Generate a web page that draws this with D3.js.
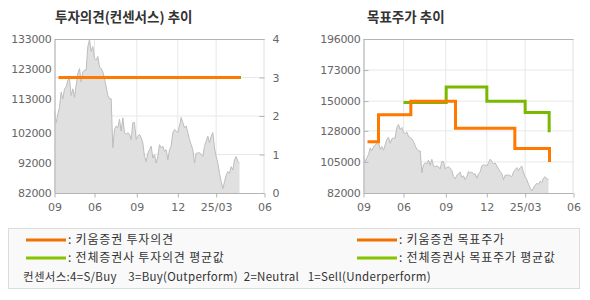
<!DOCTYPE html>
<html>
<head>
<meta charset="utf-8">
<script src="https://cdn.jsdelivr.net/npm/d3@7"></script>
<style>
  body { margin: 0; background: #fff; }
  text { font-family: "Noto Sans CJK KR", "Noto Sans", sans-serif; }
</style>
</head>
<body>
<div id="chart"></div>
<script>
// closing price samples (roughly every trading day or two)
const prices = [
  109200, 105300, 108100, 110400, 115400, 113200, 116500, 117100, 119300, 119900,
  114300, 116500, 113700, 117600, 121600, 123200, 118800, 122100, 122700, 122700,
  130500, 132800, 128900, 130500, 126600, 126000, 127200, 123800, 123200, 122100,
  119900, 117100, 114300, 113200, 113200, 97000, 103000, 104200, 103600, 106400,
  102500, 106900, 102000, 101400, 102000, 101400, 99700, 105300, 105300, 99700,
  100800, 101400, 100300, 98600, 94100, 92400, 95200, 96300, 97500, 93600,
  94700, 91900, 94100, 98000, 96900, 97500, 95800, 96300, 93000, 96300,
  97500, 102000, 103000, 102500, 102000, 104200, 107000, 105300, 103600, 104200,
  102000, 99700, 98000, 96300, 91900, 95200, 95200, 95400, 94700, 94100,
  97500, 99200, 100800, 98600, 100800, 102000, 96900, 94100, 91900, 88500,
  85700, 83500, 85700, 87900, 89100, 88500, 90700, 89600, 93000, 94100,
  92400, 91900
];
const xMax = 126;
const xTicks = [0, 24, 49.4, 74, 97, 126];
const xTickLabels = ['09', '06', '09', '12', '25/03', '06'];

// investment opinion (left chart)
const opinionX = [2.4, 111.4];
const opinionVal = [3, 3];
const consensusOpX = [24, 111.9];
const consensusOpVal = [3, 3];

// target price (right chart)
const targetX = [2.4, 9, 28.4, 55.2, 90.8, 111.6];
const targetVal = [120000, 140000, 150000, 130000, 115000, 105000];
const avgTargetX = [24, 49.6, 74, 97, 111.4];
const avgTargetVal = [149000, 160500, 150000, 141500, 127000];

const leftPriceTicks = [82000, 92000, 102000, 113000, 123000, 133000];
const rightPriceTicks = [82000, 105000, 128000, 150000, 173000, 196000];
const opinionTicks = [0, 1, 2, 3, 4];

const ORANGE = '#ff7800';
const GREEN = '#79b900';

const svg = d3.select('#chart').append('svg')
  .attr('width', 590)
  .attr('height', 300);

const plotTop = 39, plotBottom = 193;

function drawPanel(opts) {
  const g = svg.append('g');
  const x = d3.scaleLinear().domain([0, xMax]).range([opts.x0, opts.x1]);
  const y = d3.scaleLinear().domain(opts.priceDomain).range([plotBottom, plotTop]);

  g.append('text')
    .attr('x', opts.titleX)
    .attr('y', 22)
    .attr('font-size', 13.5)
    .attr('font-weight', 'bold')
    .attr('fill', '#333')
    .text(opts.title);

  // vertical grid
  g.selectAll('.vgrid')
    .data(xTicks.slice(1, -1))
    .enter().append('line')
    .attr('x1', d => x(d)).attr('x2', d => x(d))
    .attr('y1', plotTop).attr('y2', plotBottom)
    .attr('stroke', '#e8e8e8');

  // horizontal grid
  g.selectAll('.hgrid')
    .data(opts.gridVals)
    .enter().append('line')
    .attr('x1', opts.x0).attr('x2', opts.x1)
    .attr('y1', d => opts.gridScale(d)).attr('y2', d => opts.gridScale(d))
    .attr('stroke', '#e8e8e8');

  // price area
  const area = d3.area()
    .x((d, i) => x(i))
    .y0(plotBottom)
    .y1(d => y(d));
  g.append('path')
    .datum(prices)
    .attr('d', area)
    .attr('fill', '#e0e0e0');
  g.append('path')
    .datum(prices)
    .attr('d', d3.line().x((d, i) => x(i)).y(d => y(d)))
    .attr('fill', 'none')
    .attr('stroke', '#bdbdbd')
    .attr('stroke-width', 1);

  // frame
  g.append('rect')
    .attr('x', opts.x0 + 0.5).attr('y', plotTop + 0.5)
    .attr('width', opts.x1 - opts.x0 - 1).attr('height', plotBottom - plotTop)
    .attr('fill', 'none')
    .attr('stroke', '#e0e0e0');
  g.append('path')
    .attr('d', `M${opts.x0 + 0.5},${plotTop + 0.5}H${opts.x1}M${opts.x0 + 0.5},${plotTop}V${plotBottom + 0.5}H${opts.x1}`)
    .attr('fill', 'none')
    .attr('stroke', '#b4b4b4');

  // x axis
  const xAxis = d3.axisBottom(x)
    .tickValues(xTicks)
    .tickFormat((d, i) => xTickLabels[i])
    .tickSize(4)
    .tickSizeOuter(0);
  const ax = g.append('g')
    .attr('transform', `translate(0,${plotBottom + 0.5})`)
    .call(xAxis);
  ax.select('.domain').remove();
  ax.selectAll('line').attr('stroke', '#b4b4b4');
  ax.selectAll('text')
    .attr('fill', '#666')
    .attr('dy', '0.95em')
    .style('font-family', '"DejaVu Sans", sans-serif')
    .style('font-size', '11px');

  // left axis labels
  const ay = g.append('g')
    .attr('transform', `translate(${opts.x0},0)`)
    .call(d3.axisLeft(y).tickValues(opts.leftTicks).tickSize(opts.leftTickInner ? -5 : 0).tickPadding(3).tickFormat(d3.format('d')));
  ay.select('.domain').remove();
  ay.selectAll('line').attr('stroke', '#b4b4b4');
  ay.selectAll('text')
    .attr('fill', '#666')
    .style('font-family', '"DejaVu Sans", sans-serif')
    .style('font-size', '11px')
    .attr('letter-spacing', '-0.3');

  return { g, x, y };
}

// left panel: investment opinion
const yOp = d3.scaleLinear().domain([0, 4]).range([plotBottom, plotTop]);
const left = drawPanel({
  x0: 54.5, x1: 264.5,
  title: '투자의견(컨센서스) 추이', titleX: 55,
  priceDomain: [82000, 133000],
  leftTicks: leftPriceTicks,
  gridVals: [1, 2, 3],
  gridScale: yOp,
  leftTickInner: false
});

const ayR = left.g.append('g')
  .attr('transform', 'translate(264.5,0)')
  .call(d3.axisRight(yOp).tickValues(opinionTicks).tickSize(-5).tickPadding(8).tickFormat(d3.format('d')));
ayR.select('.domain').remove();
ayR.selectAll('line').attr('stroke', '#b4b4b4');
ayR.selectAll('text')
  .attr('fill', '#666')
  .style('font-family', '"DejaVu Sans", sans-serif')
  .style('font-size', '11px');

const stepLine = (xs, s) => d3.line()
  .x((d, i) => s.x(xs[i]))
  .y(d => s.y(d))
  .curve(d3.curveStepAfter);

left.g.append('path')
  .datum(consensusOpVal)
  .attr('d', d3.line().x((d, i) => left.x(consensusOpX[i])).y(d => yOp(d)))
  .attr('fill', 'none').attr('stroke', GREEN).attr('stroke-width', 3);
left.g.append('path')
  .datum(opinionVal)
  .attr('d', d3.line().x((d, i) => left.x(opinionX[i])).y(d => yOp(d)))
  .attr('fill', 'none').attr('stroke', ORANGE).attr('stroke-width', 3);

// right panel: target price
const yRight = d3.scaleLinear().domain([82000, 196000]).range([plotBottom, plotTop]);
const right = drawPanel({
  x0: 363.5, x1: 573.5,
  title: '목표주가 추이', titleX: 367,
  priceDomain: [82000, 196000],
  leftTicks: rightPriceTicks,
  gridVals: rightPriceTicks.slice(1, -1),
  gridScale: yRight,
  leftTickInner: true
});

right.g.append('path')
  .datum(avgTargetVal)
  .attr('d', stepLine(avgTargetX, right))
  .attr('fill', 'none').attr('stroke', GREEN).attr('stroke-width', 3);
right.g.append('path')
  .datum(targetVal)
  .attr('d', stepLine(targetX, right))
  .attr('fill', 'none').attr('stroke', ORANGE).attr('stroke-width', 3);

// legend
const legendItems = [
  { label: ': 키움증권 투자의견', color: '#f07000', col: 0, row: 0 },
  { label: ': 전체증권사 투자의견 평균값', color: '#86c400', col: 0, row: 1 },
  { label: ': 키움증권 목표주가', color: '#f07000', col: 1, row: 0 },
  { label: ': 전체증권사 목표주가 평균값', color: '#86c400', col: 1, row: 1 }
];
const legend = svg.append('g');
legend.append('rect')
  .attr('x', 8.5).attr('y', 228.5)
  .attr('width', 571).attr('height', 60)
  .attr('fill', '#f9f9f9')
  .attr('stroke', '#dcdcdc');

const items = legend.selectAll('.item')
  .data(legendItems)
  .enter().append('g')
  .attr('transform', d => `translate(${d.col ? 357 : 26},${240 + d.row * 18})`);
items.append('line')
  .attr('x1', 0).attr('x2', 40)
  .attr('stroke', d => d.color)
  .attr('stroke-width', 3);
items.append('text')
  .attr('x', 42)
  .attr('dy', '0.35em')
  .attr('font-size', 12)
  .attr('letter-spacing', 0.8)
  .attr('fill', '#333')
  .style('white-space', 'pre')
  .text(d => d.label);

legend.append('text')
  .attr('x', 23)
  .attr('y', 277)
  .attr('dy', '0.35em')
  .attr('font-size', 11.5)
  .attr('letter-spacing', 0.3)
  .attr('fill', '#333')
  .style('white-space', 'pre')
  .text('컨센서스:4=S/Buy    3=Buy(Outperform)  2=Neutral   1=Sell(Underperform)');
</script>
</body>
</html>
